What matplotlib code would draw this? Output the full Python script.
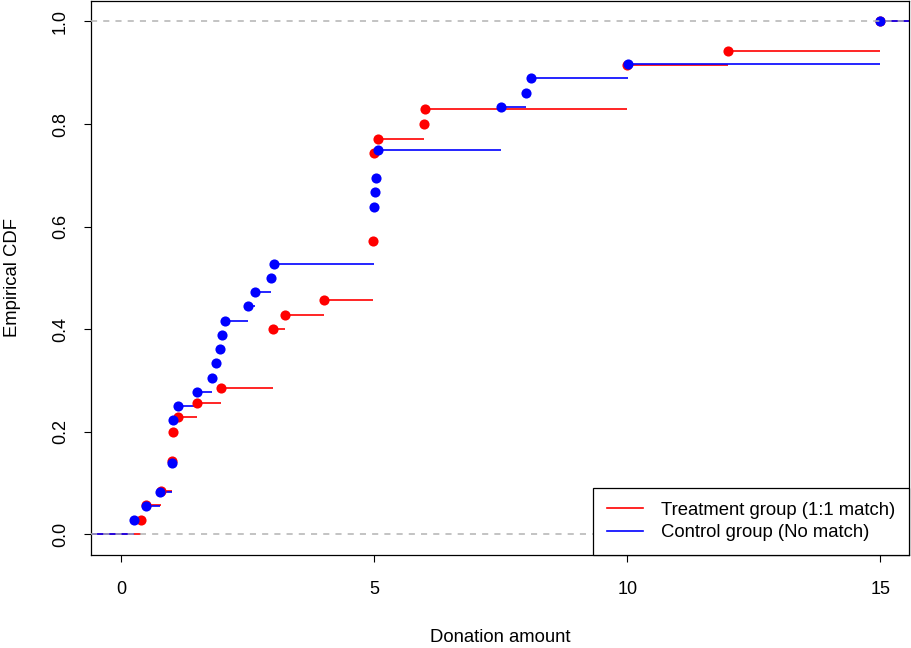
import numpy as np
import matplotlib
matplotlib.use("Agg")
import matplotlib.pyplot as plt

plt.rcParams['font.family'] = ['Liberation Sans', 'DejaVu Sans']

treat_amount = [0.4, 0.5, 0.8, 1.0, 1.02, 1.12, 1.5, 1.98, 3.01, 3.25, 4.01,
                4.97, 5.0, 5.07, 5.99, 6.0, 10.0, 12.0, 15.0]
treat_count = [1, 1, 1, 2, 2, 1, 1, 1, 4, 1, 1, 4, 6, 1, 1, 1, 3, 1, 2]

ctrl_amount = [0.25, 0.5, 0.77, 1.0, 1.02, 1.12, 1.51, 1.8, 1.88, 1.96, 1.99,
               2.05, 2.51, 2.65, 2.96, 3.02, 4.99, 5.01, 5.04, 5.07, 7.51,
               8.01, 8.1, 10.02, 15.0]
ctrl_count = [1, 1, 1, 2, 3, 1, 1, 1, 1, 1, 1, 1, 1, 1, 1, 1, 4, 1, 1, 2, 3,
              1, 1, 1, 3]

labels = ['Treatment group (1:1 match)', 'Control group (No match)']
colors = ['red', 'blue']

xlim = (-0.59, 15.57)
ylim = (-0.04, 1.04)


def draw_ecdf(ax, amount, count, col):
    x = np.asarray(amount, dtype=float)
    y = np.cumsum(count) / np.sum(count)
    starts = np.concatenate([[xlim[0]], x])
    ends = np.concatenate([x, [xlim[1]]])
    levels = np.concatenate([[0.0], y])
    ax.hlines(levels, starts, ends, colors=col, linewidth=1.2, zorder=2)
    ax.plot(x, y, 'o', color=col, markersize=7.3, markeredgewidth=0, zorder=3)


fig = plt.figure(figsize=(9.11, 6.48), dpi=100)
ax = fig.add_axes([0.1, 0.1435, 0.898, 0.855])

draw_ecdf(ax, treat_amount, treat_count, colors[0])
draw_ecdf(ax, ctrl_amount, ctrl_count, colors[1])

for h in (0, 1):
    ax.axhline(h, color='#b3b3b3', linestyle=(0, (4, 4)), linewidth=1.1, zorder=4)

ax.set_xlim(*xlim)
ax.set_ylim(*ylim)
ax.set_xticks([0, 5, 10, 15])
ax.set_yticks([0, 0.2, 0.4, 0.6, 0.8, 1.0])
ax.set_yticklabels(['0.0', '0.2', '0.4', '0.6', '0.8', '1.0'], rotation=90, va='center')
ax.tick_params(labelsize=13, length=5, width=0.8, pad=14)
ax.tick_params(axis='y', pad=11)
for s in ax.spines.values():
    s.set_linewidth(0.9)

ax.set_xlabel('Donation amount', fontsize=13.3, labelpad=22)
ax.set_ylabel('Empirical CDF', fontsize=13.3, labelpad=22)

handles = [plt.Line2D([], [], color=c, linewidth=1.2) for c in colors]
ax.legend(handles, labels, loc='lower right', fontsize=13.3, borderaxespad=0,
          fancybox=False, edgecolor='black', framealpha=1, handlelength=1.95,
          handletextpad=1.0, borderpad=0.75, labelspacing=0.3)
ax.get_legend().get_frame().set_linewidth(0.9)

fig.savefig('out.png', dpi=100)
